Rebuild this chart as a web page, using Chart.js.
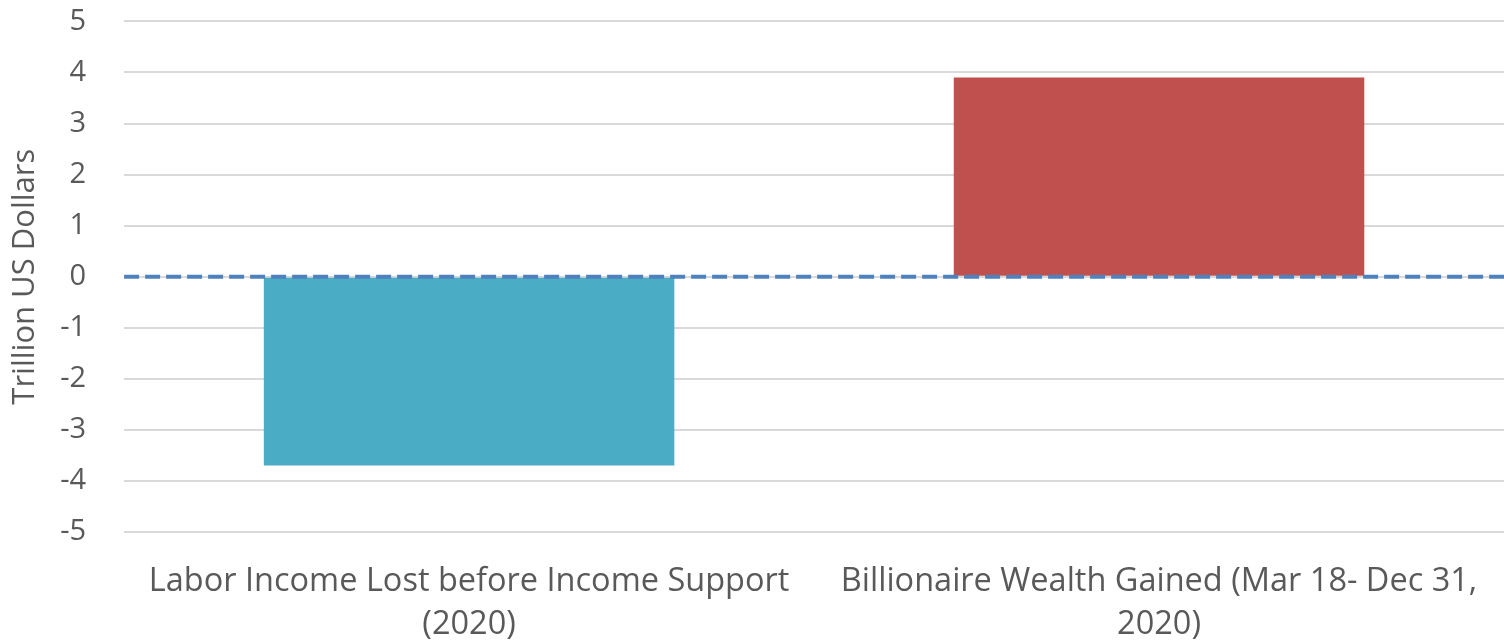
<!DOCTYPE html>
<html>
<head>
<meta charset="utf-8">
<script src="https://cdn.jsdelivr.net/npm/chart.js@4.4.0/dist/chart.umd.min.js"></script>
<style>
  html, body { margin: 0; padding: 0; background: #fff; }
  #wrap { width: 1504px; height: 643px; position: relative; }
</style>
</head>
<body>
<div id="wrap"><canvas id="chart"></canvas></div>
<script>
// categories and values (trillion US dollars)
const categories = [
    ['Labor Income Lost before Income Support', '(2020)'],
    ['Billionaire Wealth Gained (Mar 18- Dec 31,', '2020)']
];
const values = [-3.7, 3.9];
const barColors = ['#4bacc6', '#c0504d'];
const yTitle = 'Trillion US Dollars';

// dashed line across the plot at zero
const zeroLine = {
    id: 'zeroLine',
    afterDatasetsDraw(chart) {
        const { ctx, chartArea, scales } = chart;
        const y = scales.y.getPixelForValue(0);
        ctx.save();
        ctx.strokeStyle = '#4f81bd';
        ctx.lineWidth = 4;
        ctx.setLineDash([15, 6]);
        ctx.beginPath();
        ctx.moveTo(chartArea.left, y);
        ctx.lineTo(chartArea.right, y);
        ctx.stroke();
        ctx.restore();
    }
};

Chart.defaults.font.family = '"Open Sans", Lato, sans-serif';
Chart.defaults.color = '#595959';

new Chart(document.getElementById('chart'), {
    type: 'bar',
    data: {
        labels: categories,
        datasets: [{
            data: values,
            backgroundColor: barColors,
            barPercentage: 0.595,
            categoryPercentage: 1
        }]
    },
    options: {
        responsive: true,
        maintainAspectRatio: false,
        animation: false,
        // plot runs slightly past the right edge
        layout: { padding: { top: 0, right: -5, bottom: 0, left: 7 } },
        plugins: {
            legend: { display: false },
            tooltip: { enabled: false }
        },
        scales: {
            x: {
                grid: { display: false },
                border: { display: false },
                ticks: { font: { size: 32.5, lineHeight: 1.32 }, maxRotation: 0, padding: 20 },
                afterFit(scale) { scale.height = 111; }
            },
            y: {
                min: -5,
                max: 5,
                ticks: { stepSize: 1, font: { size: 29 }, padding: 4 },
                // invisible tick marks keep the labels away from the grid
                grid: { color: '#d9d9d9', lineWidth: 2, drawTicks: true, tickLength: 34, tickColor: 'rgba(0,0,0,0)' },
                border: { display: false },
                title: { display: true, text: yTitle, font: { size: 31 }, padding: { top: 0, bottom: 12 } }
            }
        }
    },
    plugins: [zeroLine]
});
</script>
</body>
</html>
